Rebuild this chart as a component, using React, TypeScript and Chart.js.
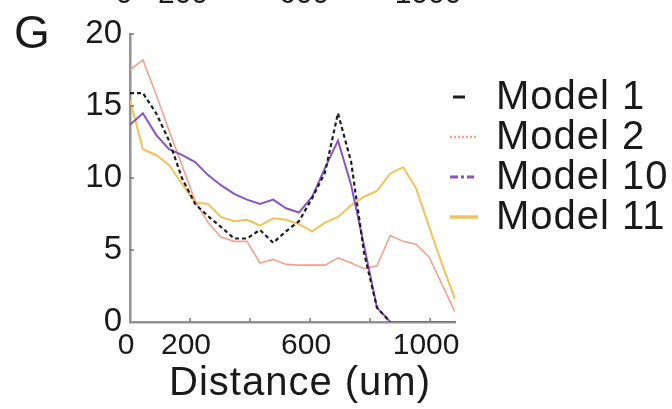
import React, { useEffect, useRef } from "react";
import { Chart, registerables } from "chart.js";

Chart.register(...registerables);

// ---- data ----
const distance = [0, 43, 87, 130, 173, 217, 260, 303, 347, 390, 433, 477, 520, 563, 607, 650, 693, 737, 780, 823, 867, 910, 953, 997, 1040, 1083];
const model1 = [15.9, 15.9, 14.5, 12.6, 10.0, 8.2, 7.35, 6.6, 5.8, 5.8, 6.4, 5.5, 6.3, 7.0, 8.6, 10.4, 14.5, 11.1, 4.8, 1.0, 0, null, null, null, null, null];
const model2 = [17.5, 18.2, 15.8, 13.3, 10.9, 8.4, 6.9, 5.9, 5.6, 5.6, 4.1, 4.35, 4.0, 3.95, 3.95, 3.95, 4.45, 4.1, 3.7, 3.9, 6.0, 5.6, 5.4, 4.5, 2.6, 0.7];
const model10 = [13.7, 14.5, 13.0, 12.0, 11.6, 11.1, 10.2, 9.5, 8.9, 8.5, 8.2, 8.5, 7.9, 7.6, 8.7, 10.7, 12.6, 9.5, 5.3, 1.0, 0, 0, 0, 0, 0, 0];
const model11 = [15.4, 12.0, 11.6, 10.9, 9.6, 8.3, 8.2, 7.3, 7.0, 7.1, 6.7, 7.2, 7.1, 6.8, 6.3, 6.9, 7.3, 8.1, 8.7, 9.1, 10.3, 10.75, 9.3, 6.6, 4.0, 1.6];

const seriesNames = ["Model 1", "Model 2", "Model 10", "Model 11"];
const xTicks = [0, 200, 400, 600, 800, 1000];
const xLabeled = [0, 200, 600, 1000];
const yTicks = [0, 5, 10, 15, 20];
const xTitle = "Distance (um)";
const panelLetter = "G";
const topCutLabels = ["0", "200", "600", "1000"];

const FONT = "'Liberation Sans', Arial, Helvetica, sans-serif";
const AXIS = "#939393";
const C1 = "#1e1e1e";
const C2 = "#f2a28e";
const C10 = "#8a55c2";
const C11 = "#f2c25a";

const innerTicks = {
  id: "innerTicks",
  afterDraw(chart: any) {
    const { ctx, chartArea, scales } = chart;
    const x = scales.x;
    const y = scales.y;
    ctx.save();
    ctx.strokeStyle = "#777";
    ctx.lineWidth = 1.5;
    ctx.beginPath();
    xTicks.slice(1).forEach((v) => {
      const px = x.getPixelForValue(v);
      ctx.moveTo(px, chartArea.bottom);
      ctx.lineTo(px, chartArea.bottom - 4);
    });
    yTicks.slice(1).forEach((v) => {
      const py = y.getPixelForValue(v);
      ctx.moveTo(chartArea.left, py);
      ctx.lineTo(chartArea.left + 4, py);
    });
    ctx.stroke();
    ctx.restore();
  },
};

function Txt({ x, y, size, align = "left", spacing = 0, children }: any) {
  const style: React.CSSProperties = {
    position: "absolute",
    left: x,
    top: y - size / 2,
    fontSize: size,
    lineHeight: `${size}px`,
    fontFamily: FONT,
    letterSpacing: spacing,
    color: "#1a1a1a",
    whiteSpace: "nowrap",
    transform: align === "center" ? "translateX(-50%)" : undefined,
  };
  return <div style={style}>{children}</div>;
}

function Marker({ x, y, w, color, dash, width }: any) {
  return (
    <svg style={{ position: "absolute", left: x, top: y - 4 }} width={w} height={8}>
      <line x1={0} y1={4} x2={w} y2={4} stroke={color} strokeWidth={width} strokeDasharray={dash} />
    </svg>
  );
}

export default function App() {
  const ref = useRef<HTMLCanvasElement>(null);

  useEffect(() => {
    if (!ref.current) return;
    const mk = (i: number, data: (number | null)[], color: string, width: number, dash: number[]) => ({
      label: seriesNames[i],
      data: distance.map((d, k) => ({ x: d, y: data[k] })),
      borderColor: color,
      backgroundColor: color,
      borderWidth: width,
      borderDash: dash,
      pointRadius: 0,
      tension: 0,
      fill: false,
      spanGaps: false,
    });
    const chart = new Chart(ref.current, {
      type: "line",
      data: {
        datasets: [
          mk(0, model1, C1, 2.2, [4, 3]),
          mk(2, model10, C10, 2, []),
          mk(1, model2, C2, 1.6, []),
          mk(3, model11, C11, 2, []),
        ],
      },
      options: {
        animation: false,
        responsive: false,
        devicePixelRatio: 1,
        layout: { padding: { left: 0, top: 34, right: 217, bottom: 0 } },
        plugins: { legend: { display: false }, tooltip: { enabled: false } },
        scales: {
          x: {
            type: "linear",
            min: 0,
            max: 1083,
            grid: { display: false, drawTicks: false },
            border: { display: true, color: AXIS, width: 2.5 },
            afterBuildTicks: (s: any) => {
              s.ticks = xTicks.map((v) => ({ value: v }));
            },
            afterFit: (s: any) => {
              s.height = 87;
            },
            ticks: {
              autoSkip: false,
              maxRotation: 0,
              padding: 6,
              labelOffset: -4,
              color: "#1a1a1a",
              font: { family: FONT, size: 30 },
              callback: (v: any) => (xLabeled.includes(Number(v)) ? String(v) : ""),
            },
          },
          y: {
            type: "linear",
            min: 0,
            max: 20,
            grid: { display: false, drawTicks: false },
            border: { display: true, color: AXIS, width: 2.5 },
            afterBuildTicks: (s: any) => {
              s.ticks = yTicks.map((v) => ({ value: v }));
            },
            afterFit: (s: any) => {
              s.width = 130;
            },
            ticks: {
              padding: 8,
              color: "#1a1a1a",
              font: { family: FONT, size: 33 },
              callback: (v: any) => String(v),
            },
          },
        },
      },
      plugins: [innerTicks],
    });
    return () => chart.destroy();
  }, []);

  const legendRows = [
    { name: seriesNames[0], y: 95, color: C1, dash: "", w: 12, x: 453, width: 3 },
    { name: seriesNames[1], y: 135, color: C2, dash: "2 2", w: 28, x: 450, width: 2.5 },
    { name: seriesNames[2], y: 175, color: C10, dash: "8 3 3 3", w: 24, x: 450, width: 3 },
    { name: seriesNames[3], y: 215, color: C11, dash: "", w: 28, x: 450, width: 3.5 },
  ];
  const topX = [124, 183, 304, 428];

  return (
    <div style={{ position: "fixed", left: 0, top: 0, width: 672, height: 409, background: "#fff", overflow: "hidden" }}>
      <canvas ref={ref} width={672} height={409} style={{ position: "absolute", left: 0, top: 0 }} />
      {topCutLabels.map((t, i) => (
        <div
          key={t}
          style={{
            position: "absolute",
            left: topX[i],
            top: -22,
            fontSize: 30,
            lineHeight: "30px",
            fontFamily: FONT,
            color: "#1a1a1a",
            transform: "translateX(-50%)",
          }}
        >
          {t}
        </div>
      ))}
      <Txt x={14} y={32} size={46}>{panelLetter}</Txt>
      <Txt x={300} y={381} size={40} spacing={1} align="center">{xTitle}</Txt>
      {legendRows.map((r) => (
        <React.Fragment key={r.name}>
          <Marker x={r.x} y={r.y + 2} w={r.w} color={r.color} dash={r.dash} width={r.width} />
          <Txt x={496} y={r.y} size={40} spacing={1}>{r.name}</Txt>
        </React.Fragment>
      ))}
    </div>
  );
}
